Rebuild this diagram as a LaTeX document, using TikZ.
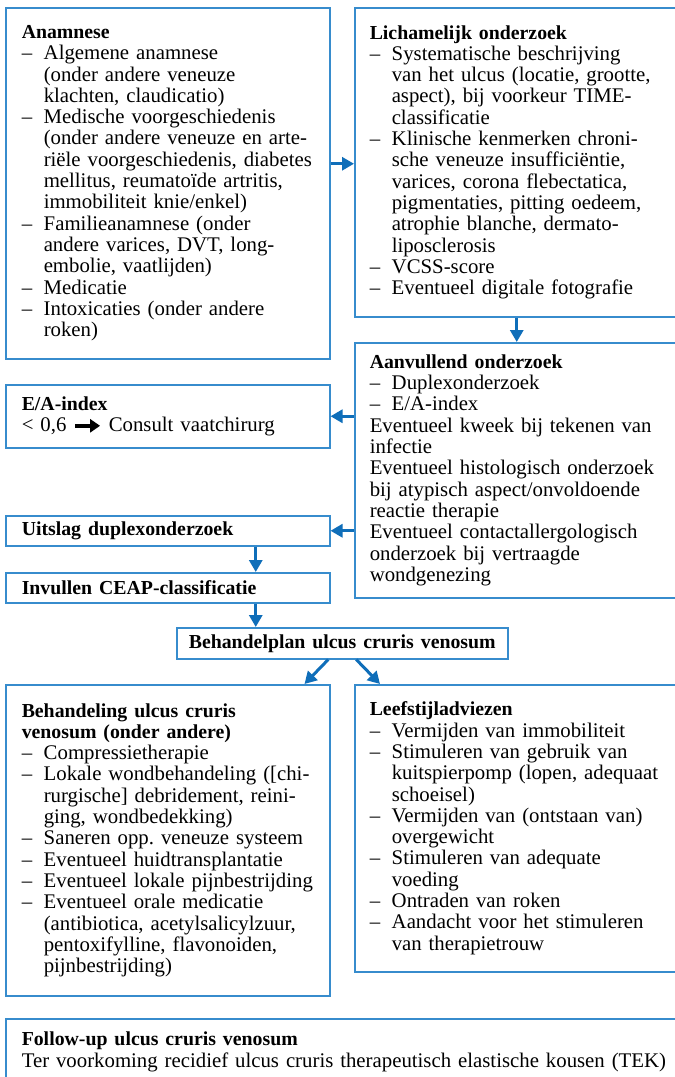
\documentclass[tikz,border=0pt]{standalone}
\usepackage{fontspec}
\setmainfont{Liberation Serif}
\usetikzlibrary{arrows.meta,calc}
\definecolor{bordercol}{RGB}{55,140,205}
\definecolor{arrcol}{RGB}{15,110,185}
\frenchspacing
\newcommand{\itm}{\makebox[22pt][l]{–}}
\newcommand{\ind}{\hspace*{22pt}}
\newcommand{\ttl}[1]{{\fontsize{19.8}{21.3}\selectfont\bfseries #1}}
\newcommand{\blackarrow}{\tikz[baseline=-0.6ex]\draw[line width=3.5pt,-{Triangle[length=10pt,width=13pt]}] (0pt,0pt) -- (25pt,0pt);}
\tikzset{
  box/.style={draw=bordercol, line width=1.5pt, anchor=north west, inner xsep=16pt, inner ysep=0pt, align=left, font=\fontsize{20.8}{21.3}\selectfont},
  rbox/.style={box, inner xsep=15pt, text width=306pt},
  lbox/.style={box, text width=292pt},
  arr/.style={draw=arrcol, line width=3pt, -{Triangle[length=12pt,width=13pt]}}
}
\begin{document}
\begin{tikzpicture}[x=1pt,y=-1pt]
\useasboundingbox (0,0) rectangle (675,1077);
\clip (0,0) rectangle (675,1077);
\fill[white] (0,0) rectangle (675,1077);

\node[lbox, minimum height=351pt] (anam) at (5,7) {%
\ttl{Anamnese}\\
\itm Algemene anamnese\\
\ind (onder andere veneuze\\
\ind klachten, claudicatio)\\
\itm Medische voorgeschiedenis\\
\ind (onder andere veneuze en arte-\\
\ind riële voorgeschiedenis, diabetes\\
\ind mellitus, reumatoïde artritis,\\
\ind immobiliteit knie/enkel)\\
\itm Familieanamnese (onder\\
\ind andere varices, DVT, long-\\
\ind embolie, vaatlijden)\\
\itm Medicatie\\
\itm Intoxicaties (onder andere\\
\ind roken)};

\node[rbox, minimum height=309pt] (lich) at (354,7) {%
\ttl{Lichamelijk onderzoek}\\
\itm Systematische beschrijving\\
\ind van het ulcus (locatie, grootte,\\
\ind aspect), bij voorkeur TIME-\\
\ind classificatie\\
\itm Klinische kenmerken chroni-\\
\ind sche veneuze insufficiëntie,\\
\ind varices, corona flebectatica,\\
\ind pigmentaties, pitting oedeem,\\
\ind atrophie blanche, dermato-\\
\ind liposclerosis\\
\itm VCSS-score\\
\itm Eventueel digitale fotografie};

\node[rbox, minimum height=255pt] (aanv) at (354,342) {%
\ttl{Aanvullend onderzoek}\\
\itm Duplexonderzoek\\
\itm E/A-index\\
Eventueel kweek bij tekenen van\\
infectie\\
Eventueel histologisch onderzoek\\
bij atypisch aspect/onvoldoende\\
reactie therapie\\
Eventueel contactallergologisch\\
onderzoek bij vertraagde\\
wondgenezing};

\node[lbox, minimum height=63pt] (ea) at (5,384) {%
\ttl{E/A-index}\\
< 0,6 \blackarrow{} Consult vaatchirurg};

\node[lbox, minimum height=30pt] (uit) at (5,515) {\ttl{Uitslag duplexonderzoek}};
\node[lbox, minimum height=30pt] (inv) at (5,572) {\ttl{Invullen CEAP-classificatie}};
\node[box, align=center, inner xsep=0pt, text width=331pt, minimum height=31pt] (plan) at (176,627) {\ttl{\mbox{Behandelplan ulcus cruris venosum}}};

\node[lbox, minimum height=311pt] (beh) at (5,684) {%
\ttl{Behandeling ulcus cruris}\\
\ttl{venosum (onder andere)}\\
\itm Compressietherapie\\
\itm Lokale wondbehandeling ([chi-\\
\ind rurgische] debridement, reini-\\
\ind ging, wondbedekking)\\
\itm Saneren opp. veneuze systeem\\
\itm Eventueel huidtransplantatie\\
\itm Eventueel lokale pijnbestrijding\\
\itm Eventueel orale medicatie\\
\ind (antibiotica, acetylsalicylzuur,\\
\ind pentoxifylline, flavonoiden,\\
\ind pijnbestrijding)};

\node[rbox, minimum height=287pt] (leef) at (354,684) {%
\ttl{Leefstijladviezen}\\
\itm Vermijden van immobiliteit\\
\itm Stimuleren van gebruik van\\
\ind kuitspierpomp (lopen, adequaat\\
\ind schoeisel)\\
\itm Vermijden van (ontstaan van)\\
\ind overgewicht\\
\itm Stimuleren van adequate\\
\ind voeding\\
\itm Ontraden van roken\\
\itm Aandacht voor het stimuleren\\
\ind van therapietrouw};

\node[box, text width=653pt, minimum height=66pt] (fol) at (5,1018) {%
\ttl{Follow-up ulcus cruris venosum}\\
Ter voorkoming recidief ulcus cruris therapeutisch elastische kousen (TEK)};

% connectors
\draw[arr] ([yshift=19.5pt]anam.east) -- ([yshift=19.5pt]anam.east -| lich.west);
\draw[arr] ([xshift=-6pt]lich.south) -- ([xshift=-6pt]lich.south |- aanv.north);
\draw[arr] (aanv.west |- ea.east) -- (ea.east);
\draw[arr] (aanv.west |- uit.east) -- (uit.east);
\draw[arr] ([xshift=88pt]uit.south) -- ([xshift=88pt]inv.north);
\draw[arr] ([xshift=88pt]inv.south) -- ([xshift=88pt]inv.south |- plan.north);
\draw[arr] ([xshift=-14pt]plan.south) -- ([xshift=-26pt]beh.north east);
\draw[arr] ([xshift=14pt]plan.south) -- ([xshift=26pt]leef.north west);
\end{tikzpicture}
\end{document}
